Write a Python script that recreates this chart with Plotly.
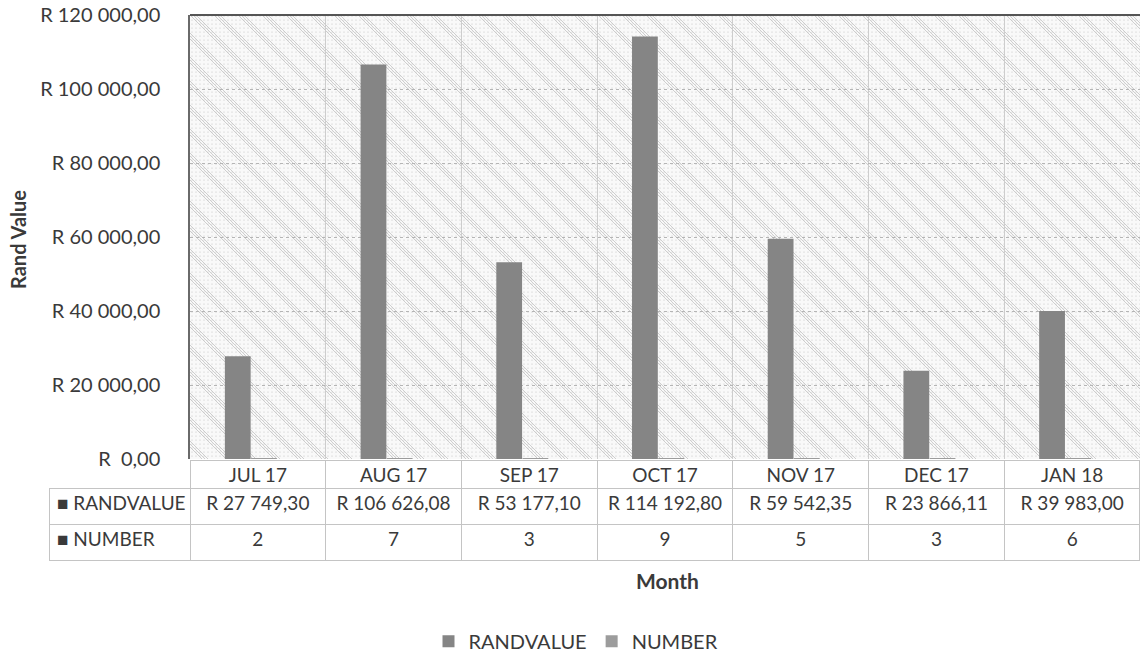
import base64
import plotly.graph_objects as go

months = ["JUL 17", "AUG 17", "SEP 17", "OCT 17", "NOV 17", "DEC 17", "JAN 18"]
randvalue = [27749.30, 106626.08, 53177.10, 114192.80, 59542.35, 23866.11, 39983.00]
number = [2, 7, 3, 9, 5, 3, 6]
randvalue_text = ["R 27 749,30", "R 106 626,08", "R 53 177,10", "R 114 192,80",
                  "R 59 542,35", "R 23 866,11", "R 39 983,00"]
series_names = ["RANDVALUE", "NUMBER"]
ytick_vals = [0, 20000, 40000, 60000, 80000, 100000, 120000]
ytick_text = ["R\u00a0\u00a00,00", "R 20 000,00", "R 40 000,00", "R 60 000,00",
              "R 80 000,00", "R 100 000,00", "R 120 000,00"]

W, H = 1140, 662
FONT = "Lato"
TXT = "#3a3a3a"
BAR1 = "#858585"
BAR2 = "#9c9c9c"

# plot area in pixels
PL, PR, PT, PB = 190, 1140, 15, 459

def px_x(x):
    return x / W

def px_y(y):
    return (H - y) / H

# background texture (diagonal lines + dots) as an SVG image
pw, ph = PR - PL, PB - PT
lines = ""
for o in (0, 3, 6):
    lines += f'<line x1="{o}" y1="0" x2="{o+24}" y2="24"/><line x1="{o-24}" y1="0" x2="{o}" y2="24"/>'
dots = ""
for i in range(0, 24, 4):
    for j in range(0, 24, 4):
        dots += f'<circle cx="{i+2}" cy="{j+1}" r="0.6"/>'
svg = (f'<svg xmlns="http://www.w3.org/2000/svg" width="{pw}" height="{ph}" viewBox="0 0 {pw} {ph}">'
       f'<defs><pattern id="p" width="24" height="24" patternUnits="userSpaceOnUse">'
       f'<rect width="24" height="24" fill="#f9f9f9"/>'
       f'<g stroke="#bcbcbc" stroke-width="0.7">{lines}</g>'
       f'<g fill="#c4c4c4">{dots}</g></pattern></defs>'
       f'<rect width="{pw}" height="{ph}" fill="url(#p)"/></svg>')
svg_uri = "data:image/svg+xml;base64," + base64.b64encode(svg.encode()).decode()

fig = go.Figure()
fig.add_trace(go.Bar(
    x=months, y=randvalue, name=series_names[0], marker_color=BAR1,
    width=0.19, offset=-0.243, marker_line_width=0,
))
fig.add_trace(go.Bar(
    x=months, y=number, name=series_names[1], marker_color=BAR2,
    width=0.19, offset=-0.05, marker_line_width=0,
))

keys = ["■\u00a0" + n for n in series_names]
colw = [PL - 49] + [(PR - PL) / 7] * 7
fig.add_trace(go.Table(
    domain=dict(x=[px_x(49), 1], y=[px_y(568), px_y(PB + 1)]),
    columnwidth=colw,
    header=dict(
        values=[""] + months,
        height=28,
        align="center",
        font=dict(family=FONT, size=19, color=TXT),
        fill_color=["rgba(0,0,0,0)"] + ["white"] * 7,
        line=dict(color=["rgba(0,0,0,0)"] + ["#c4c4c4"] * 7, width=1),
    ),
    cells=dict(
        values=[keys] + [[t, str(n)] for t, n in zip(randvalue_text, number)],
        height=36,
        align=["left"] + ["center"] * 7,
        font=dict(family=FONT, size=19, color=TXT),
        fill_color="white",
        line=dict(color="#c4c4c4", width=1),
    ),
))

annotations = [
    dict(text="<b>Rand Value</b>", x=px_x(18), y=px_y(240), xref="paper", yref="paper",
         xanchor="center", yanchor="middle",
         textangle=-90, showarrow=False, font=dict(family=FONT, size=20, color=TXT)),
    dict(text="<b>Month</b>", x=px_x(667), y=px_y(580), xref="paper", yref="paper",
         xanchor="center", yanchor="middle",
         showarrow=False, font=dict(family=FONT, size=21, color=TXT)),
]

fig.update_layout(
    width=W, height=H,
    margin=dict(l=0, r=0, t=0, b=0),
    paper_bgcolor="white",
    plot_bgcolor="#f2f2f2",
    barmode="overlay",
    font=dict(family=FONT, color=TXT),
    showlegend=True,
    legend=dict(orientation="h", x=px_x(576), xanchor="center", y=0.002, yanchor="bottom",
                font=dict(family=FONT, size=20, color=TXT), itemwidth=30, traceorder="normal"),
    xaxis=dict(domain=[px_x(PL), px_x(PR)], showticklabels=False, tickson="boundaries",
               showgrid=True, gridcolor="#cdcdcd", gridwidth=1, ticks="",
               showline=False, zeroline=False, automargin=False),
    yaxis=dict(domain=[px_y(PB), px_y(PT)], range=[0, 120000],
               tickvals=ytick_vals, ticktext=ytick_text,
               tickfont=dict(family=FONT, size=20, color=TXT),
               showgrid=True, gridcolor="#b5b5b5", griddash="dot", gridwidth=1,
               showline=True, linecolor="#6a6a6a", linewidth=1.5,
               zeroline=False, ticks="", ticklabelstandoff=24, automargin=False),
    images=[dict(source=svg_uri, xref="x domain", yref="y domain", x=0, y=1,
                 sizex=1, sizey=1, xanchor="left", yanchor="top",
                 sizing="stretch", layer="below")],
    shapes=[dict(type="line", xref="x domain", yref="y domain", x0=0, x1=1, y0=1, y1=1,
                 line=dict(color="#555555", width=2))],
    annotations=annotations,
)

fig.write_html("out.html")
